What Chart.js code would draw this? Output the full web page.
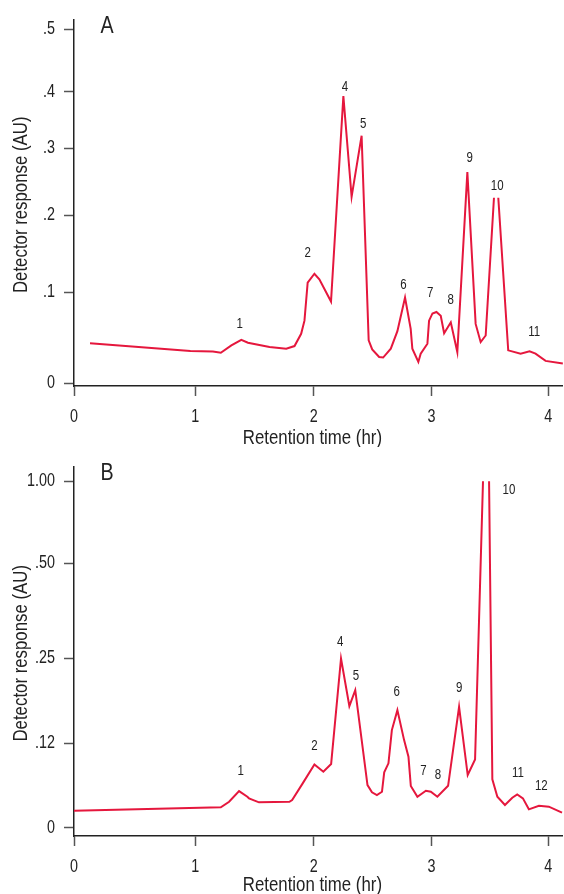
<!DOCTYPE html>
<html><head><meta charset="utf-8">
<script src="https://cdn.jsdelivr.net/npm/chart.js@4.4.1/dist/chart.umd.min.js"></script>
<style>
html,body{margin:0;padding:0;background:#fff;}
body{width:564px;height:894px;position:relative;overflow:hidden;}
.panel{position:absolute;left:0;width:564px;height:447px;}
#wrapA{top:0}#wrapB{top:447px}
</style></head><body>
<div class="panel" id="wrapA"><canvas id="chartA" width="564" height="447"></canvas></div>
<div class="panel" id="wrapB"><canvas id="chartB" width="564" height="447"></canvas></div>
<script>
// ---------- data ----------
const xTickValues = [0, 1, 2, 3, 4];
const xTickLabels = ['0', '1', '2', '3', '4'];

const timeA = [0.132, 0.960, 1.149, 1.216, 1.305, 1.389, 1.445, 1.627, 1.768, 1.838, 1.894, 1.922, 1.949, 2.006, 2.048, 2.147, 2.252, 2.322, 2.407, 2.467, 2.497, 2.556, 2.590, 2.655, 2.711, 2.776, 2.824, 2.838, 2.889, 2.909, 2.966, 2.980, 3.009, 3.043, 3.080, 3.109, 3.166, 3.222, 3.308, 3.379, 3.422, 3.465, 3.536, 3.555, 3.573, 3.658, 3.764, 3.841, 3.892, 3.978, 4.126];
const responseA = [0.0441, 0.0355, 0.0348, 0.0335, 0.0416, 0.0478, 0.0446, 0.0398, 0.0380, 0.0409, 0.0543, 0.0688, 0.1124, 0.124, 0.1168, 0.0898, 0.3925, 0.2277, 0.3227, 0.0471, 0.0373, 0.0289, 0.0283, 0.0380, 0.0572, 0.0941, 0.0598, 0.0380, 0.0235, 0.0326, 0.0435, 0.0688, 0.0767, 0.0783, 0.0742, 0.0550, 0.0670, 0.0343, 0.2648, 0.0652, 0.0452, 0.0525, 0.2263, null, 0.2263, 0.0362, 0.0326, 0.0351, 0.0326, 0.0246, 0.0217];
const yTickValuesA = [0, 0.1, 0.2, 0.3, 0.4, 0.5];
const yTickLabelsA = ['0', '.1', '.2', '.3', '.4', '.5'];
const peakNamesA = ['1', '2', '4', '5', '6', '7', '8', '9', '10', '11'];
const peakTimeA = [1.375, 1.949, 2.266, 2.421, 2.763, 2.989, 3.166, 3.328, 3.564, 3.880];
const peakRespA = [0.0655, 0.151, 0.4075, 0.343, 0.1094, 0.0989, 0.0913, 0.2856, 0.2441, 0.0561];

const timeB = [0, 1.216, 1.286, 1.370, 1.440, 1.454, 1.538, 1.795, 1.818, 1.907, 2.006, 2.082, 2.148, 2.232, 2.303, 2.353, 2.457, 2.495, 2.537, 2.580, 2.599, 2.635, 2.664, 2.711, 2.768, 2.805, 2.825, 2.881, 2.953, 2.995, 3.051, 3.143, 3.237, 3.311, 3.374, 3.442, 3.468, 3.494, 3.522, 3.565, 3.630, 3.693, 3.735, 3.784, 3.835, 3.921, 4.006, 4.119];
const responseB = [0.0241, 0.0289, 0.0368, 0.0520, 0.0439, 0.0417, 0.0360, 0.0368, 0.0392, 0.0629, 0.0898, 0.0794, 0.0903, 0.25, 0.1768, 0.2013, 0.0605, 0.0502, 0.0463, 0.0510, 0.0785, 0.0913, 0.1400, 0.1707, 0.1246, 0.1006, 0.0591, 0.0439, 0.0524, 0.0510, 0.0439, 0.0595, 0.1757, 0.0747, 0.0969, 1.0, null, 1.0, 0.0686, 0.0439, 0.0322, 0.0425, 0.0473, 0.0417, 0.0261, 0.0312, 0.0298, 0.0213];
const yTickValuesB = [0, 0.12, 0.25, 0.5, 1.0];
const yTickLabelsB = ['0', '.12', '.25', '.50', '1.00'];
const peakNamesB = ['1', '2', '4', '5', '6', '7', '8', '9', '10', '11', '12'];
const peakTimeB = [1.384, 2.006, 2.224, 2.359, 2.706, 2.932, 3.057, 3.237, 3.664, 3.742, 3.942];
const peakRespB = [0.0808, 0.1162, 0.2935, 0.2233, 0.1978, 0.0808, 0.0747, 0.204, 0.9478, 0.0771, 0.0591];

// ---------- axis layout (value -> fraction of plot extent) ----------
const xAnchors = [[0, 0], [1, 0.2480], [2, 0.4904], [3, 0.7312], [4, 0.9700], [4.1256, 1]];
const yAnchorsA = [[-0.0029, 0], [0, 0.0073], [0.1, 0.2559], [0.2, 0.4657], [0.3, 0.6478], [0.4, 0.8027], [0.5, 0.9730], [0.5159, 1]];
const yAnchorsB = [[-0.01176, 0], [0, 0.0224], [0.12, 0.2514], [0.25, 0.4803], [0.5, 0.7378], [1.0, 0.9603], [1.0893, 1]];

const FONT = '"Liberation Sans", Arial, sans-serif';
const CONDENSE = 0.82;
const RED = '#e5173d';
const TEXT = '#222222';

class PiecewiseScale extends Chart.LinearScale {
  static id = 'piecewise';
  static defaults = {};
  determineDataLimits() {
    const a = this.options.anchors;
    this.min = a[0][0];
    this.max = a[a.length - 1][0];
  }
  buildTicks() {
    return this.options.tickValues.map(v => ({ value: v }));
  }
  _dec(v) {
    const a = this.options.anchors;
    let i = 0;
    while (i < a.length - 2 && v > a[i + 1][0]) i++;
    const [v0, d0] = a[i], [v1, d1] = a[i + 1];
    return d0 + (v - v0) * (d1 - d0) / (v1 - v0);
  }
  getPixelForValue(v) {
    if (v === null || v === undefined || isNaN(v)) return NaN;
    return this.getPixelForDecimal(this._dec(v));
  }
  getValueForPixel(p) {
    const d = this.getDecimalForPixel(p);
    const a = this.options.anchors;
    let i = 0;
    while (i < a.length - 2 && d > a[i + 1][1]) i++;
    const [v0, d0] = a[i], [v1, d1] = a[i + 1];
    return v0 + (d - d0) * (v1 - v0) / (d1 - d0);
  }
  drawTitle() {
    const s = this.options.titleShift || [0, 0];
    this.ctx.save();
    this.ctx.translate(s[0], s[1]);
    super.drawTitle();
    this.ctx.restore();
  }
}
Chart.register(PiecewiseScale);

// condensed lettering (the original uses a condensed typeface)
function condense(ctx, k) {
  const orig = ctx.fillText.bind(ctx);
  ctx.fillText = function (text, x, y, maxWidth) {
    this.save();
    this.translate(x, y);
    this.scale(k, 1);
    if (maxWidth !== undefined) orig(text, 0, 0, maxWidth / k); else orig(text, 0, 0);
    this.restore();
  };
}

const annotPlugin = {
  id: 'annot',
  afterDatasetsDraw(chart, args, opts) {
    const { ctx, chartArea, scales } = chart;
    ctx.save();
    ctx.fillStyle = TEXT;
    ctx.textAlign = 'center';
    ctx.textBaseline = 'middle';
    ctx.font = '14px ' + FONT;
    opts.names.forEach((n, i) => {
      ctx.fillText(n, scales.x.getPixelForValue(opts.times[i]), scales.y.getPixelForValue(opts.resps[i]));
    });
    ctx.font = '24px ' + FONT;
    ctx.textBaseline = 'alphabetic';
    ctx.fillText(opts.letter, chartArea.left + 33, chartArea.top + 13.3);
    ctx.restore();
  }
};

function makeChart(id, times, resps, yTicks, yLabels, yAnchors, names, pTimes, pResps, letter, topPad, xHeight) {
  const pts = times.map((t, i) => ({ x: t, y: resps[i] }));
  const ctx = document.getElementById(id).getContext('2d');
  condense(ctx, CONDENSE);
  return new Chart(ctx, {
    type: 'line',
    data: { datasets: [{ data: pts, borderColor: RED, borderWidth: 2, pointRadius: 0, tension: 0, spanGaps: false, fill: false }] },
    plugins: [annotPlugin],
    options: {
      responsive: false,
      devicePixelRatio: 1,
      animation: false,
      events: [],
      layout: { padding: { top: topPad, right: 0, left: 0, bottom: 0 } },
      plugins: {
        legend: { display: false },
        tooltip: { enabled: false },
        annot: { names: names, times: pTimes, resps: pResps, letter: letter }
      },
      scales: {
        x: {
          type: 'piecewise', position: 'bottom', anchors: xAnchors, tickValues: xTickValues, titleShift: [-6, 0],
          afterFit: s => { s.height = xHeight; },
          border: { display: true, color: '#222', width: 1.5 },
          grid: { drawOnChartArea: false, drawTicks: true, tickLength: 10, color: '#555', tickColor: '#555', tickWidth: 1.5 },
          ticks: { autoSkip: false, maxRotation: 0, padding: 11, color: TEXT, font: { family: FONT, size: 17.5 }, callback: (v, i) => xTickLabels[i] },
          title: { display: true, text: 'Retention time (hr)', color: TEXT, font: { family: FONT, size: 20.5, lineHeight: 0.8 }, padding: { top: 0, bottom: 0 } }
        },
        y: {
          type: 'piecewise', position: 'left', anchors: yAnchors, tickValues: yTicks, titleShift: [0, 2],
          afterFit: s => { s.width = 74; },
          border: { display: true, color: '#222', width: 1.5 },
          grid: { drawOnChartArea: false, drawTicks: true, tickLength: 10, color: '#555', tickColor: '#555', tickWidth: 1.5 },
          ticks: { autoSkip: false, padding: 9, color: TEXT, font: { family: FONT, size: 17.5 }, callback: (v, i) => yLabels[i] },
          title: { display: true, text: 'Detector response (AU)', color: TEXT, font: { family: FONT, size: 20.5, lineHeight: 1 }, padding: { top: 11, bottom: 0 } }
        }
      }
    }
  });
}

makeChart('chartA', timeA, responseA, yTickValuesA, yTickLabelsA, yAnchorsA, peakNamesA, peakTimeA, peakRespA, 'A', 16, 61);
makeChart('chartB', timeB, responseB, yTickValuesB, yTickLabelsB, yAnchorsB, peakNamesB, peakTimeB, peakRespB, 'B', 19, 58);
</script>
</body></html>
